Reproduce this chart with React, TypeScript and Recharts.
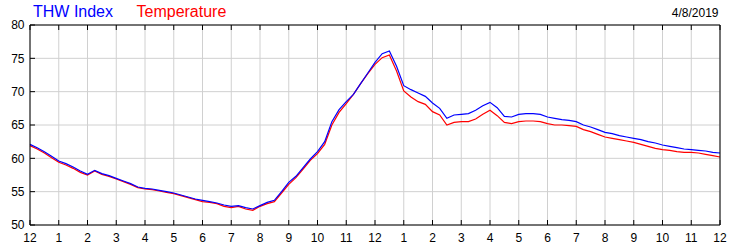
import React from 'react';
import { LineChart, Line, XAxis, YAxis, CartesianGrid } from 'recharts';

// sample times, every 15 minutes from midnight to midnight
const hours = Array.from({ length: 97 }, (_, i) => i / 4);

const thwIndex = [
  62.1, 61.6, 61.0, 60.3, 59.6, 59.2, 58.7, 58.1,
  57.6, 58.2, 57.7, 57.4, 57.0, 56.6, 56.2, 55.7,
  55.5, 55.4, 55.2, 55.0, 54.8, 54.5, 54.2, 53.9,
  53.7, 53.5, 53.3, 53.0, 52.8, 52.9, 52.6, 52.4,
  52.9, 53.4, 53.7, 55.0, 56.4, 57.3, 58.6, 59.9,
  61.0, 62.5, 65.5, 67.3, 68.5, 69.6, 71.2, 72.8,
  74.4, 75.7, 76.1, 73.8, 70.9, 70.3, 69.8, 69.3,
  68.3, 67.5, 66.0, 66.5, 66.6, 66.7, 67.2, 67.9,
  68.4, 67.6, 66.3, 66.2, 66.6, 66.7, 66.7, 66.6,
  66.2, 66.0, 65.8, 65.7, 65.5, 65.0, 64.7, 64.3,
  63.9, 63.7, 63.4, 63.2, 63.0, 62.8, 62.5, 62.3,
  62.0, 61.8, 61.6, 61.4, 61.3, 61.2, 61.1, 60.9,
  60.8,
];

const temperature = [
  61.9, 61.4, 60.8, 60.1, 59.4, 59.0, 58.5, 57.9,
  57.5, 58.1, 57.6, 57.3, 56.9, 56.5, 56.1, 55.6,
  55.4, 55.3, 55.1, 54.9, 54.7, 54.4, 54.1, 53.8,
  53.5, 53.4, 53.2, 52.8, 52.6, 52.8, 52.4, 52.2,
  52.8, 53.2, 53.5, 54.8, 56.1, 57.1, 58.4, 59.7,
  60.7, 62.1, 65.0, 66.9, 68.2, 69.6, 71.2, 72.7,
  74.1, 75.1, 75.5, 73.1, 70.1, 69.2, 68.5, 68.1,
  67.0, 66.5, 65.0, 65.4, 65.5, 65.5, 65.9, 66.6,
  67.2, 66.4, 65.4, 65.2, 65.5, 65.6, 65.6, 65.5,
  65.2, 65.0, 65.0, 64.9, 64.8, 64.3, 64.0, 63.6,
  63.2, 63.0, 62.8, 62.6, 62.4, 62.1, 61.8, 61.5,
  61.3, 61.2, 61.0, 60.9, 60.9, 60.8, 60.6, 60.4,
  60.2,
];

const hourTicks = [0, 1, 2, 3, 4, 5, 6, 7, 8, 9, 10, 11, 12, 13, 14, 15, 16, 17, 18, 19, 20, 21, 22, 23, 24];
const hourLabels = ['12', '1', '2', '3', '4', '5', '6', '7', '8', '9', '10', '11', '12', '1', '2', '3', '4', '5', '6', '7', '8', '9', '10', '11', '12'];
const tempTicks = [50, 55, 60, 65, 70, 75, 80];

const chartData = hours.map((h, i) => ({ h, thw: thwIndex[i], temp: temperature[i] }));

const FONT = '"Liberation Sans", Arial, sans-serif';

const BottomTick = (props: any) => {
  const { x, y, payload } = props;
  return (
    <g>
      <line x1={x} y1={y} x2={x} y2={y - 5} stroke="#000" />
      <text x={x} y={y + 17} textAnchor="middle" fontSize={12} fontFamily={FONT} fill="#000">
        {hourLabels[payload.value]}
      </text>
    </g>
  );
};

const TopTick = (props: any) => {
  const { x, y } = props;
  return <line x1={x} y1={y} x2={x} y2={y + 5} stroke="#000" />;
};

const LeftTick = (props: any) => {
  const { x, y, payload } = props;
  return (
    <g>
      <line x1={x} y1={y} x2={x + 5} y2={y} stroke="#000" />
      <text x={x - 5.5} y={y + 4.3} textAnchor="end" fontSize={12} fontFamily={FONT} fill="#000">
        {payload.value}
      </text>
    </g>
  );
};

const RightTick = (props: any) => {
  const { x, y, payload } = props;
  return (
    <g>
      <line x1={x} y1={y} x2={x - 5} y2={y} stroke="#000" />
      <text x={x + 7} y={y + 4.3} textAnchor="start" fontSize={12} fontFamily={FONT} fill="#000">
        {payload.value}
      </text>
    </g>
  );
};

export default function App() {
  return (
    <div style={{ position: 'absolute', left: 0, top: 0, width: 750, height: 250, background: '#fff' }}>
      <LineChart width={750} height={250} data={chartData} margin={{ top: 24, right: 0, bottom: 0, left: 0 }}>
        <CartesianGrid stroke="#d0d0d0" />
        <XAxis
          dataKey="h"
          type="number"
          domain={[0, 24]}
          ticks={hourTicks}
          height={25}
          tickSize={0}
          tickMargin={0}
          tickLine={false}
          axisLine={{ stroke: '#000' }}
          tick={<BottomTick />}
          interval={0}
        />
        <XAxis
          xAxisId="top"
          orientation="top"
          dataKey="h"
          type="number"
          domain={[0, 24]}
          ticks={hourTicks}
          height={1}
          tickSize={0}
          tickMargin={0}
          tickLine={false}
          axisLine={{ stroke: '#000' }}
          tick={<TopTick />}
          interval={0}
        />
        <YAxis
          type="number"
          domain={[50, 80]}
          ticks={tempTicks}
          width={30}
          tickSize={0}
          tickMargin={0}
          tickLine={false}
          axisLine={{ stroke: '#000' }}
          tick={<LeftTick />}
          interval={0}
        />
        <YAxis
          yAxisId="right"
          orientation="right"
          type="number"
          domain={[50, 80]}
          ticks={tempTicks}
          width={30}
          tickSize={0}
          tickMargin={0}
          tickLine={false}
          axisLine={{ stroke: '#000' }}
          tick={<RightTick />}
          interval={0}
        />
        <Line type="linear" dataKey="temp" stroke="#ff0000" strokeWidth={1.2} dot={false} isAnimationActive={false} />
        <Line type="linear" dataKey="thw" stroke="#0000ff" strokeWidth={1.2} dot={false} isAnimationActive={false} />
      </LineChart>
      <svg width={750} height={250} style={{ position: 'absolute', left: 0, top: 0, pointerEvents: 'none' }}>
        <text x={33} y={17.3} fontSize={16} fontFamily={FONT} fill="#0000ff">THW Index</text>
        <text x={136.5} y={17.3} fontSize={16} fontFamily={FONT} fill="#ff0000">Temperature</text>
        <text x={718.5} y={16.7} fontSize={12} fontFamily={FONT} fill="#000" textAnchor="end">4/8/2019</text>
      </svg>
    </div>
  );
}
